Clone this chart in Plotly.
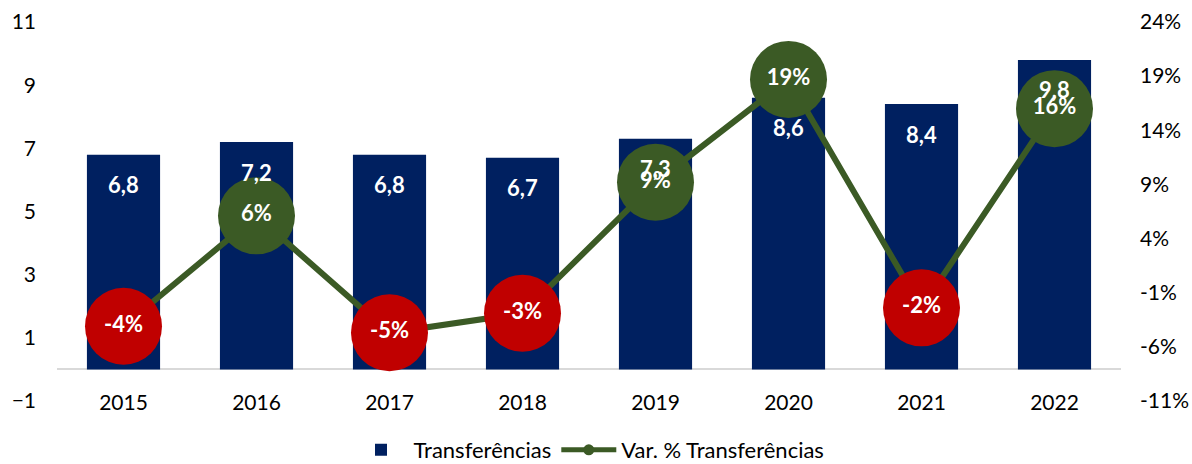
import plotly.graph_objects as go

years = ["2015", "2016", "2017", "2018", "2019", "2020", "2021", "2022"]
transferencias = [6.8, 7.2, 6.8, 6.7, 7.3, 8.6, 8.4, 9.8]
var_pct = [-4.1, 6.1, -4.7, -2.9, 9.2, 18.7, -2.4, 16.0]
left_ticks = [-1, 1, 3, 5, 7, 9, 11]
right_ticks = [-11, -6, -1, 4, 9, 14, 19, 24]

NAVY = "#002060"
GREEN = "#3B5A25"
RED = "#C00000"
FONT = "Lato"

def br(v):
    return f"{v:.1f}".replace(".", ",")

fig = go.Figure()

fig.add_trace(go.Bar(
    x=years, y=transferencias, name="Transferências",
    marker=dict(color=NAVY, line=dict(width=0)),
    width=0.55, showlegend=True,
))

marker_colors = [RED if v < 0 else GREEN for v in var_pct]
fig.add_trace(go.Scatter(
    x=years, y=var_pct, yaxis="y2", mode="lines+markers+text",
    line=dict(color=GREEN, width=6),
    marker=dict(size=77, color=marker_colors, line=dict(width=0)),
    text=[f"<b>{round(v):d}%</b>" for v in var_pct],
    textposition="middle center",
    textfont=dict(family=FONT, size=22, color="white"),
    showlegend=False, hoverinfo="skip",
))

# legend-only entry
fig.add_trace(go.Scatter(
    x=[years[0]], y=[None], yaxis="y2", mode="lines+markers",
    name="Var. % Transferências",
    line=dict(color=GREEN, width=5), marker=dict(size=11, color=GREEN),
    hoverinfo="skip",
))

annotations = []
for i, v in enumerate(transferencias):
    annotations.append(dict(
        x=i, y=v - 0.95, xref="x", yref="y", text=f"<b>{br(v)}</b>",
        showarrow=False, font=dict(family=FONT, size=22, color="white"),
        xanchor="center", yanchor="middle",
    ))

fig.update_layout(
    width=1192, height=464,
    margin=dict(l=57, r=71, t=22, b=63, autoexpand=False),
    paper_bgcolor="white", plot_bgcolor="white",
    font=dict(family=FONT, size=20, color="#000000"),
    annotations=annotations,
    xaxis=dict(
        type="category", categoryorder="array", categoryarray=years,
        range=[-0.5, len(years) - 0.5], automargin=False,
        showgrid=False, zeroline=False,
        showline=False,
        ticks="", ticklabelstandoff=-13,
        tickfont=dict(family=FONT, size=21, color="#000000"),
    ),
    yaxis=dict(
        range=[-1, 11], tickvals=left_ticks, showgrid=False, automargin=False,
        zeroline=True, zerolinecolor="#D9D9D9", zerolinewidth=2,
        showline=False, ticks="", ticklabelstandoff=20,
        tickfont=dict(family=FONT, size=21, color="#000000"),
    ),
    yaxis2=dict(
        range=[-11, 24], tickvals=right_ticks, automargin=False,
        ticktext=[f"{t}%" for t in right_ticks],
        overlaying="y", side="right", showgrid=False, zeroline=False,
        showline=False, ticks="", ticklabelstandoff=18,
        tickfont=dict(family=FONT, size=21, color="#000000"),
    ),
    legend=dict(
        orientation="h", x=0.5, xanchor="center",
        yref="container", y=14/464, yanchor="middle",
        font=dict(family=FONT, size=22, color="#000000"),
        traceorder="normal", itemwidth=55,
    ),
)

fig.write_html(
    "out.html",
    config={"displayModeBar": False},
    post_script="document.body.style.margin='0';document.body.style.overflow='hidden';",
)
